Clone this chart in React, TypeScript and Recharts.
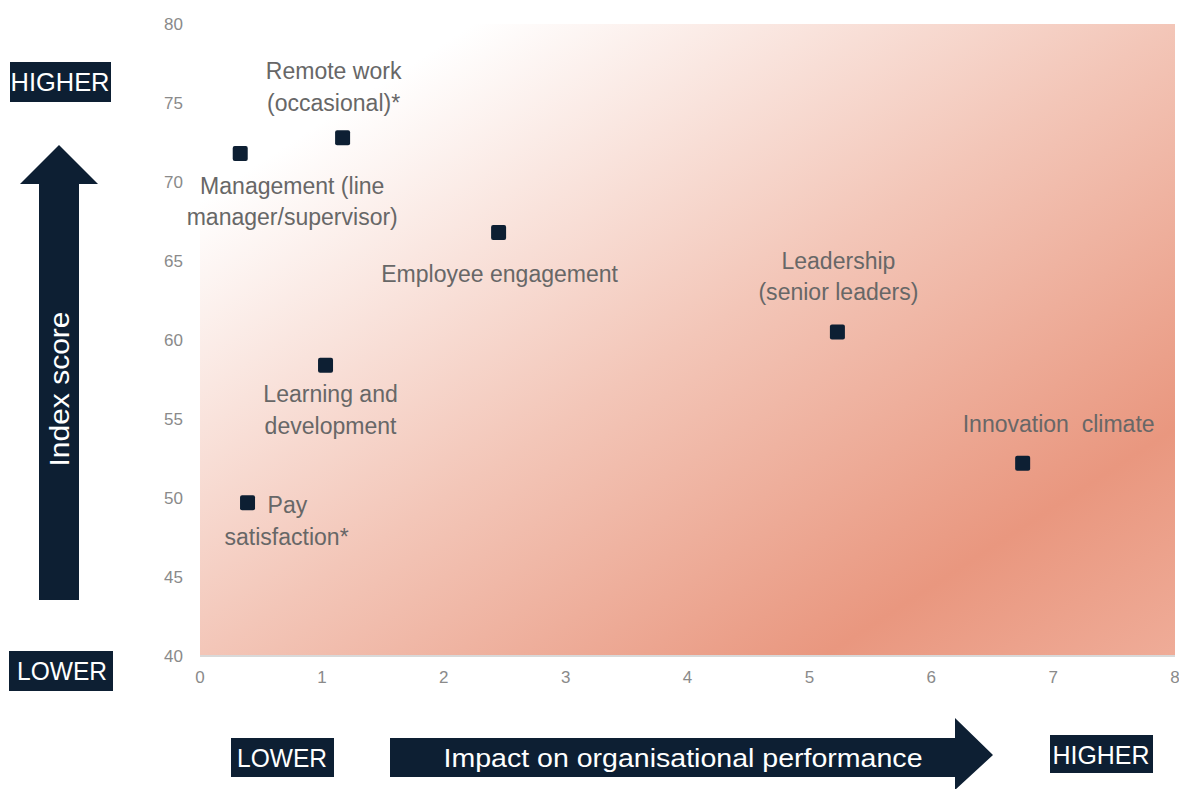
import React from "react";
import { ScatterChart, Scatter, XAxis, YAxis, ReferenceArea } from "recharts";

const categories = [
  "Management (line manager/supervisor)",
  "Remote work (occasional)*",
  "Employee engagement",
  "Leadership (senior leaders)",
  "Learning and development",
  "Innovation climate",
  "Pay satisfaction*",
];
const impactValues = [0.33, 1.17, 2.45, 5.23, 1.03, 6.75, 0.39];
const indexScores = [71.8, 72.8, 66.8, 60.5, 58.4, 52.2, 49.7];
const xTicks = [0, 1, 2, 3, 4, 5, 6, 7, 8];
const yTicks = [40, 45, 50, 55, 60, 65, 70, 75, 80];

// label lines per point, offsets relative to the marker centre
const labelLayout = [
  [
    { text: "Management (line", dx: 52, dy: 40, anchor: "middle" },
    { text: "manager/supervisor)", dx: 52, dy: 71, anchor: "middle" },
  ],
  [
    { text: "Remote work", dx: -9, dy: -59, anchor: "middle" },
    { text: "(occasional)*", dx: -9, dy: -27, anchor: "middle" },
  ],
  [{ text: "Employee engagement", dx: 1, dy: 49, anchor: "middle" }],
  [
    { text: "Leadership", dx: 1, dy: -63, anchor: "middle" },
    { text: "(senior leaders)", dx: 1, dy: -32, anchor: "middle" },
  ],
  [
    { text: "Learning and", dx: 5, dy: 37, anchor: "middle" },
    { text: "development", dx: 5, dy: 69, anchor: "middle" },
  ],
  [{ text: "Innovation\u00a0\u00a0climate", dx: 36, dy: -31, anchor: "middle" }],
  [
    { text: "Pay", dx: 20, dy: 10, anchor: "start" },
    { text: "satisfaction*", dx: 39, dy: 42, anchor: "middle" },
  ],
];

const NAVY = "#0d1f33";
const FONT = "'Liberation Sans', Arial, sans-serif";

const data = categories.map((name, i) => ({
  name,
  idx: i,
  x: impactValues[i],
  y: indexScores[i],
}));

function PointShape(props: any) {
  const { cx, cy, payload } = props;
  const lines = labelLayout[payload.idx] || [];
  return (
    <g>
      <rect x={cx - 7.5} y={cy - 7.5} width={15} height={15} rx={2} fill={NAVY} />
      {lines.map((l, k) => (
        <text
          key={k}
          x={0}
          y={0}
          transform={`translate(${cx + l.dx},${cy + l.dy}) scale(0.94,1)`}
          textAnchor={l.anchor as any}
          fontSize={24.5}
          fill="#676767"
          fontFamily={FONT}
        >
          {l.text}
        </text>
      ))}
    </g>
  );
}

function Overlay() {
  return (
    <svg
      width={1179}
      height={789}
      style={{ position: "absolute", left: 0, top: 0, pointerEvents: "none" }}
      fontFamily={FONT}
    >
      {/* vertical arrow */}
      <polygon points="39,600 79,600 79,184 98,184 59,145 20,184 39,184" fill={NAVY} />
      <text
        x={0}
        y={0}
        transform="translate(69,389) rotate(-90)"
        textAnchor="middle"
        fontSize={28}
        fill="#fff"
        textLength={155}
        lengthAdjust="spacingAndGlyphs"
      >
        Index score
      </text>
      <rect x={10} y={62} width={101} height={40} fill={NAVY} />
      <text x={60} y={91} textAnchor="middle" fontSize={26} fill="#fff" textLength={99} lengthAdjust="spacingAndGlyphs">
        HIGHER
      </text>
      <rect x={9} y={651} width={104} height={40} fill={NAVY} />
      <text x={62} y={680} textAnchor="middle" fontSize={26} fill="#fff" textLength={90} lengthAdjust="spacingAndGlyphs">
        LOWER
      </text>

      {/* horizontal arrow */}
      <polygon points="390,738 955,738 955,718 993,755 955,790 955,777 390,777" fill={NAVY} />
      <text x={683} y={767} textAnchor="middle" fontSize={26} fill="#fff" textLength={479} lengthAdjust="spacingAndGlyphs">
        Impact on organisational performance
      </text>
      <rect x={231} y={738} width={103} height={39} fill={NAVY} />
      <text x={282} y={767} textAnchor="middle" fontSize={26} fill="#fff" textLength={90} lengthAdjust="spacingAndGlyphs">
        LOWER
      </text>
      <rect x={1050} y={735} width={103} height={38} fill={NAVY} />
      <text x={1101} y={764} textAnchor="middle" fontSize={26} fill="#fff" textLength={97} lengthAdjust="spacingAndGlyphs">
        HIGHER
      </text>
    </svg>
  );
}

export default function App() {
  const tickStyle = { fill: "#8a8a8a", fontSize: 17, fontFamily: FONT };
  return (
    <div
      style={{
        position: "absolute",
        left: 0,
        top: 0,
        width: 1179,
        height: 789,
        background: "#fff",
        fontFamily: FONT,
      }}
    >
      <ScatterChart width={1179} height={789} margin={{ top: 24, right: 4, bottom: 103, left: 140 }}>
        <defs>
          <linearGradient id="bgGrad" x1="0" y1="0" x2="1" y2="1">
            <stop offset="0" stopColor="#ffffff" />
            <stop offset="0.14" stopColor="#ffffff" />
            <stop offset="0.5" stopColor="#f3c6b8" />
            <stop offset="0.82" stopColor="#e9977f" />
            <stop offset="1" stopColor="#efac98" />
          </linearGradient>
        </defs>
        <XAxis
          type="number"
          dataKey="x"
          domain={[0, 8]}
          ticks={xTicks}
          height={30}
          tickLine={false}
          axisLine={{ stroke: "#d9d9d9", strokeWidth: 2 }}
          tickMargin={9}
          tick={tickStyle}
          interval={0}
        />
        <YAxis
          type="number"
          dataKey="y"
          domain={[40, 80]}
          ticks={yTicks}
          width={60}
          tickLine={false}
          axisLine={false}
          tickMargin={11}
          tick={tickStyle}
          interval={0}
        />
        <ReferenceArea x1={0} x2={8} y1={40} y2={80} fill="url(#bgGrad)" fillOpacity={1} stroke="none" />
        <Scatter data={data} shape={PointShape} isAnimationActive={false} />
      </ScatterChart>
      <Overlay />
    </div>
  );
}
